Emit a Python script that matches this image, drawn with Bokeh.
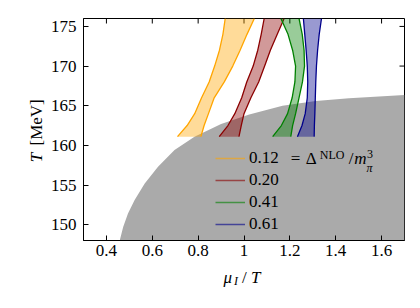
from bokeh.plotting import figure
from bokeh.models import (Range1d, FixedTicker, CustomJSTickFormatter,
                          Legend, LegendItem, Label)
from bokeh.embed import file_html
from bokeh.resources import INLINE
import math

# ---------------- data ----------------
x_ticks = [0.4, 0.6, 0.8, 1.0, 1.2, 1.4, 1.6]
y_ticks = [150, 155, 160, 165, 170, 175]

# boundary of the condensed (gray) region: mu_I/T vs T
gap_mu = [0.458, 0.473, 0.494, 0.523, 0.567, 0.625, 0.697, 0.784, 0.857, 0.900,
          1.023, 1.168, 1.313, 1.458, 1.700, 1.700]
gap_T = [148.0, 149.7, 151.4, 153.1, 155.2, 157.3, 159.4, 161.1, 162.1, 162.7,
         163.9, 165.0, 165.6, 165.95, 166.35, 148.0]

band_T = [161.1, 162.5, 164, 166, 168, 170, 172, 174, 176]
orange_left = [0.710, 0.752, 0.785, 0.815, 0.848, 0.872, 0.893, 0.908, 0.918]
orange_right = [0.812, 0.826, 0.845, 0.870, 0.914, 0.951, 0.983, 1.013, 1.045]
red_left = [0.892, 0.930, 0.960, 0.990, 1.012, 1.040, 1.060, 1.075, 1.088]
red_right = [0.978, 0.988, 1.000, 1.030, 1.064, 1.090, 1.115, 1.145, 1.175]
green_left = [1.125, 1.163, 1.190, 1.210, 1.222, 1.225, 1.212, 1.192, 1.161]
green_right = [1.204, 1.212, 1.225, 1.240, 1.255, 1.264, 1.262, 1.254, 1.240]
blue_left = [1.233, 1.253, 1.267, 1.276, 1.278, 1.276, 1.271, 1.265, 1.259]
blue_right = [1.306, 1.307, 1.309, 1.311, 1.313, 1.316, 1.321, 1.328, 1.338]

legend_labels = ["0.12", "0.20", "0.41", "0.61"]
band_colors = ["orange", "darkred", "green", "darkblue"]

FONT = "Liberation Serif"

X0, X1, Y0, Y1 = 0.3, 1.7, 148, 176

# ---------------- figure ----------------
p = figure(width=418, height=300, output_backend="svg", toolbar_location=None,
           x_range=Range1d(X0, X1), y_range=Range1d(Y0, Y1),
           min_border_left=82, min_border_right=14, min_border_top=18,
           min_border_bottom=60)
p.grid.visible = False
p.outline_line_color = "black"
p.outline_line_width = 1
p.background_fill_color = "white"
p.border_fill_color = "white"

fmt = CustomJSTickFormatter(code="""
    return (Math.abs(tick - Math.round(tick)) < 1e-9) ? tick.toFixed(0) : tick.toFixed(1);
""")

for ax in (p.xaxis[0], p.yaxis[0]):
    ax.major_tick_in = 5
    ax.major_tick_out = 0
    ax.minor_tick_line_color = None
    ax.axis_line_color = "black"
    ax.major_tick_line_color = "black"
    ax.major_label_text_font = FONT
    ax.major_label_text_font_size = "17px"
    ax.major_label_text_color = "black"

p.xaxis[0].ticker = FixedTicker(ticks=x_ticks)
p.xaxis[0].formatter = fmt
p.xaxis[0].major_label_standoff = 4
p.yaxis[0].ticker = FixedTicker(ticks=y_ticks)
p.yaxis[0].major_label_standoff = 7

# inward ticks on the top and right frame edges
p.ray(x=x_ticks, y=[Y1] * len(x_ticks), length=5, length_units="screen",
      angle=-math.pi / 2, line_color="black", line_width=1)
p.ray(x=[X1] * len(y_ticks), y=y_ticks, length=5, length_units="screen",
      angle=math.pi, line_color="black", line_width=1)

# gray region
p.patch(gap_mu, gap_T, fill_color="#aaaaaa", line_color=None)

# bands
bands = [(orange_left, orange_right), (red_left, red_right),
         (green_left, green_right), (blue_left, blue_right)]
for (lft, rgt), c in zip(bands, band_colors):
    p.harea(x1=lft, x2=rgt, y=band_T, fill_color=c, fill_alpha=0.4)
    p.line(lft, band_T, line_color=c, line_width=1.3)
    p.line(rgt, band_T, line_color=c, line_width=1.3)

# legend handles (renderers with a single NaN point: draw nothing on the plot)
nan = float("nan")
items = []
for lab_txt, c in zip(legend_labels, band_colors):
    r = p.line(x=[nan], y=[nan], line_color=c, line_alpha=0.6, line_width=1.5)
    items.append(LegendItem(label=lab_txt, renderers=[r]))
legend = Legend(items=items, location=(132, 5), border_line_color=None,
                background_fill_alpha=0, padding=0, margin=0, spacing=0,
                glyph_width=30, glyph_height=22, label_height=22,
                label_standoff=4, label_text_font=FONT,
                label_text_font_size="17px", label_text_color="black")
p.add_layout(legend)

# helpers converting page pixel positions to data coordinates for annotations
def mx(px):
    return X0 + (px - 82) / 230.0

def ty(py):
    return Y0 + (240 - py) / (222.0 / 28.0)

def lab(text, px, py, size="17px", style="normal", baseline="alphabetic",
        angle=0, place="center"):
    p.add_layout(Label(x=mx(px), y=ty(py), text=text, text_font=FONT,
                       text_font_size=size, text_font_style=style,
                       text_baseline=baseline, text_align="left",
                       text_color="black", angle=angle), place)

# legend first-row math: 0.12 = Δ^NLO / m_π^3
lab("=", 290, 158, baseline="middle")
lab("Δ", 305, 158, baseline="middle")
lab("NLO", 319, 154, size="12px", baseline="middle")
lab("/", 348, 158, baseline="middle")
lab("m", 353.5, 158, style="italic", baseline="middle")
lab("π", 366, 167, size="12px", style="italic", baseline="middle")
lab("3", 366.5, 153.5, size="12px", baseline="middle")

# axis labels lie outside the frame, so they are hosted by side panels
# (spread over panels that still have free room, so the frame keeps its size)
# x axis label: μ_I/T
lab("μ", 222.5, 277, style="italic", place="below")
lab("I", 233, 280.5, size="12px", style="italic", place="above")
lab("/", 241, 277, place="right")
lab("T", 250, 277, style="italic", place="left")

# y axis label: T [MeV]
lab("T", 34.5, 161.7, style="italic", angle=math.pi / 2, place="left")
lab("[MeV]", 34.5, 145, angle=math.pi / 2, place="left")

open("out.html", "w").write(file_html(p, INLINE))
